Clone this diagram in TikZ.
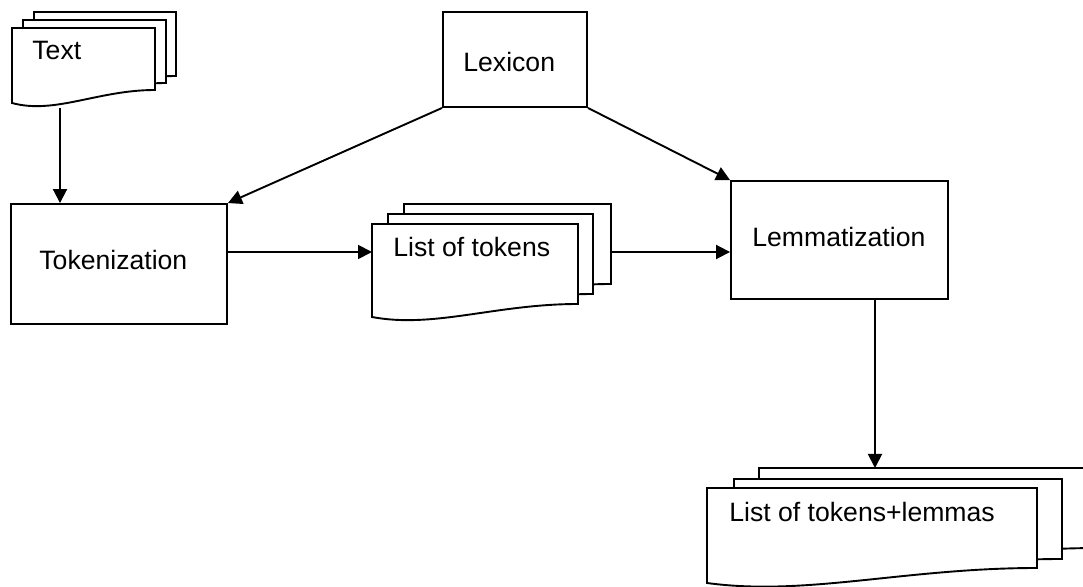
\documentclass[tikz,border=0pt]{standalone}
\usepackage{fontspec}
\setmainfont{Liberation Sans}
\usetikzlibrary{arrows.meta}
\newcommand{\docsheet}[5]{%
  \filldraw[sheet] (#1,#2) -- (#3,#2) -- (#3,#4)
    .. controls ({#1+0.6*(#3-#1)},#4) and ({#1+0.3*(#3-#1)},{#5+0.9*(#5-#4)}) .. (#1,#5) -- cycle;}
\begin{document}
\begin{tikzpicture}[x=0.5pt,y=-0.5pt,
  sheet/.style={draw=black,fill=white,line width=0.95pt,line join=miter},
  procbox/.style={draw=black,fill=white,line width=0.95pt,inner sep=0pt},
  lbl/.style={anchor=base west,inner sep=0pt,font=\fontsize{13.3}{16}\selectfont},
  arr/.style={line width=0.95pt,-{Triangle[length=7pt,width=7pt]}}]
\useasboundingbox (0,0) rectangle (1083,587);
\clip (0,0) rectangle (1083,587);
% Text document
\docsheet{34}{12}{176}{76}{89}
\docsheet{23}{20}{166}{83}{96}
\docsheet{12}{28}{155}{90}{103}
\node[lbl] (textlbl) at (32,60) {Text};
\coordinate (textdoc) at (60,108);
% List of tokens document
\docsheet{404}{204}{611}{284}{297}
\docsheet{388}{214}{593}{294}{307}
\docsheet{372}{224}{578}{304}{317}
\node[lbl] (listlbl) at (393,257) {List of tokens};
\coordinate (listdoc-w) at (372,252);
\coordinate (listdoc-e) at (611,252);
% Output document
\docsheet{759}{468}{1100}{548}{563}
\docsheet{734}{479}{1062}{559}{574}
\docsheet{707}{488}{1037}{568}{583}
\node[lbl] (outlbl) at (729,522) {List of tokens+lemmas};
\coordinate (outdoc-n) at (875,468);
% Process boxes
\node[procbox,minimum width=108pt,minimum height=60pt] (tok) at (119,264) {};
\node[lbl] (toklbl) at (39,270) {Tokenization};
\node[procbox,minimum width=72pt,minimum height=47.5pt] (lex) at (515,59.5) {};
\node[lbl] (lexlbl) at (463,72) {Lexicon};
\node[procbox,minimum width=108.5pt,minimum height=59pt] (lem) at (839.5,240) {};
\node[lbl] (lemlbl) at (752,247) {Lemmatization};
% Connectors
\draw[arr] (textdoc) -- (textdoc |- tok.north);
\draw[arr] (lex.south west) -- (tok.north east);
\draw[arr] (lex.south east) -- (lem.north west);
\draw[arr] (tok.east |- listdoc-w) -- (listdoc-w);
\draw[arr] (listdoc-e) -- (lem.west |- listdoc-e);
\draw[arr] (lem.south -| outdoc-n) -- (outdoc-n);
\end{tikzpicture}
\end{document}
